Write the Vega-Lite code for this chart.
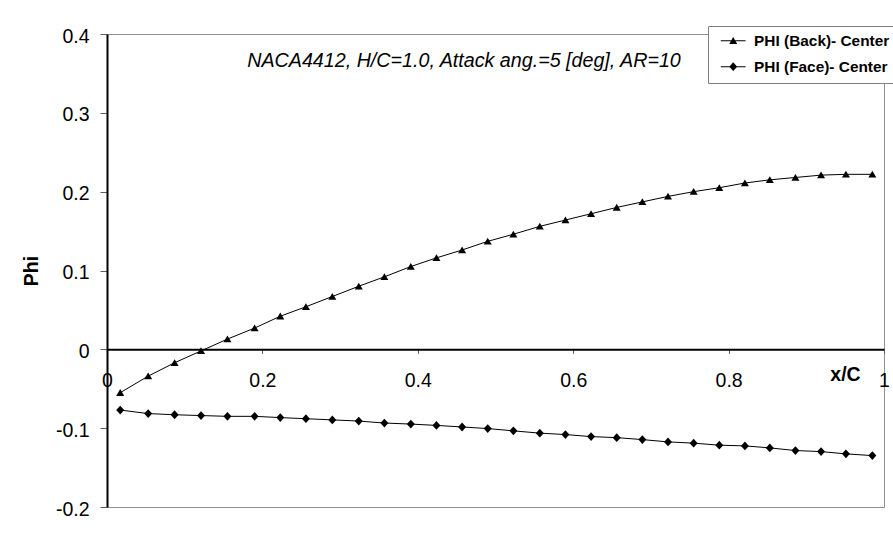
{
  "$schema": "https://vega.github.io/schema/vega-lite/v6.json",
  "width": 777,
  "height": 473,
  "autosize": {"type": "none"},
  "padding": {"left": 107, "top": 34, "right": 9, "bottom": 37},
  "background": "white",
  "config": {"view": {"stroke": "#909090", "strokeWidth": 1}, "font": "Liberation Sans"},
  "title": {
    "text": "NACA4412, H/C=1.0, Attack ang.=5 [deg], AR=10",
    "frame": "group",
    "anchor": "middle",
    "offset": -45,
    "dx": -31.5,
    "font": "Liberation Sans",
    "fontSize": 19.7,
    "fontStyle": "italic",
    "fontWeight": "normal",
    "color": "black"
  },
  "data": {
    "values": [
      {"series": "PHI (Back)- Center", "x": 0.017, "phi": -0.055},
      {"series": "PHI (Back)- Center", "x": 0.053, "phi": -0.034},
      {"series": "PHI (Back)- Center", "x": 0.087, "phi": -0.017},
      {"series": "PHI (Back)- Center", "x": 0.121, "phi": -0.002},
      {"series": "PHI (Back)- Center", "x": 0.155, "phi": 0.013},
      {"series": "PHI (Back)- Center", "x": 0.190, "phi": 0.027},
      {"series": "PHI (Back)- Center", "x": 0.223, "phi": 0.042},
      {"series": "PHI (Back)- Center", "x": 0.256, "phi": 0.054},
      {"series": "PHI (Back)- Center", "x": 0.290, "phi": 0.067},
      {"series": "PHI (Back)- Center", "x": 0.324, "phi": 0.080},
      {"series": "PHI (Back)- Center", "x": 0.357, "phi": 0.092},
      {"series": "PHI (Back)- Center", "x": 0.391, "phi": 0.105},
      {"series": "PHI (Back)- Center", "x": 0.424, "phi": 0.116},
      {"series": "PHI (Back)- Center", "x": 0.457, "phi": 0.126},
      {"series": "PHI (Back)- Center", "x": 0.490, "phi": 0.137},
      {"series": "PHI (Back)- Center", "x": 0.523, "phi": 0.146},
      {"series": "PHI (Back)- Center", "x": 0.557, "phi": 0.156},
      {"series": "PHI (Back)- Center", "x": 0.590, "phi": 0.164},
      {"series": "PHI (Back)- Center", "x": 0.623, "phi": 0.172},
      {"series": "PHI (Back)- Center", "x": 0.656, "phi": 0.180},
      {"series": "PHI (Back)- Center", "x": 0.689, "phi": 0.187},
      {"series": "PHI (Back)- Center", "x": 0.722, "phi": 0.194},
      {"series": "PHI (Back)- Center", "x": 0.755, "phi": 0.200},
      {"series": "PHI (Back)- Center", "x": 0.788, "phi": 0.205},
      {"series": "PHI (Back)- Center", "x": 0.821, "phi": 0.211},
      {"series": "PHI (Back)- Center", "x": 0.853, "phi": 0.215},
      {"series": "PHI (Back)- Center", "x": 0.886, "phi": 0.218},
      {"series": "PHI (Back)- Center", "x": 0.919, "phi": 0.221},
      {"series": "PHI (Back)- Center", "x": 0.951, "phi": 0.222},
      {"series": "PHI (Back)- Center", "x": 0.985, "phi": 0.222},
      {"series": "PHI (Face)- Center", "x": 0.017, "phi": -0.077},
      {"series": "PHI (Face)- Center", "x": 0.053, "phi": -0.0815},
      {"series": "PHI (Face)- Center", "x": 0.087, "phi": -0.083},
      {"series": "PHI (Face)- Center", "x": 0.121, "phi": -0.084},
      {"series": "PHI (Face)- Center", "x": 0.155, "phi": -0.085},
      {"series": "PHI (Face)- Center", "x": 0.190, "phi": -0.085},
      {"series": "PHI (Face)- Center", "x": 0.223, "phi": -0.0866},
      {"series": "PHI (Face)- Center", "x": 0.256, "phi": -0.088},
      {"series": "PHI (Face)- Center", "x": 0.290, "phi": -0.0895},
      {"series": "PHI (Face)- Center", "x": 0.324, "phi": -0.091},
      {"series": "PHI (Face)- Center", "x": 0.357, "phi": -0.0935},
      {"series": "PHI (Face)- Center", "x": 0.391, "phi": -0.0948},
      {"series": "PHI (Face)- Center", "x": 0.424, "phi": -0.0965},
      {"series": "PHI (Face)- Center", "x": 0.457, "phi": -0.0985},
      {"series": "PHI (Face)- Center", "x": 0.490, "phi": -0.1005},
      {"series": "PHI (Face)- Center", "x": 0.523, "phi": -0.1034},
      {"series": "PHI (Face)- Center", "x": 0.557, "phi": -0.1063},
      {"series": "PHI (Face)- Center", "x": 0.590, "phi": -0.1081},
      {"series": "PHI (Face)- Center", "x": 0.623, "phi": -0.1107},
      {"series": "PHI (Face)- Center", "x": 0.656, "phi": -0.112},
      {"series": "PHI (Face)- Center", "x": 0.689, "phi": -0.1145},
      {"series": "PHI (Face)- Center", "x": 0.722, "phi": -0.1174},
      {"series": "PHI (Face)- Center", "x": 0.755, "phi": -0.119},
      {"series": "PHI (Face)- Center", "x": 0.788, "phi": -0.1216},
      {"series": "PHI (Face)- Center", "x": 0.821, "phi": -0.1225},
      {"series": "PHI (Face)- Center", "x": 0.853, "phi": -0.125},
      {"series": "PHI (Face)- Center", "x": 0.886, "phi": -0.1284},
      {"series": "PHI (Face)- Center", "x": 0.919, "phi": -0.1297},
      {"series": "PHI (Face)- Center", "x": 0.951, "phi": -0.1326},
      {"series": "PHI (Face)- Center", "x": 0.985, "phi": -0.1348}
    ]
  },
  "encoding": {
    "x": {
      "field": "x",
      "type": "quantitative",
      "scale": {"domain": [0, 1], "nice": false, "zero": false},
      "axis": {
        "values": [0, 0.2, 0.4, 0.6, 0.8, 1],
        "format": "~g",
        "offset": -157.67,
        "title": "x/C",
        "titleX": 738,
        "titleY": 25,
        "titleAlign": "center",
        "titleBaseline": "middle",
        "titleFont": "Liberation Sans",
        "titleFontSize": 19.5,
        "titleFontWeight": "bold",
        "titleColor": "black",
        "labelFont": "Liberation Sans",
        "labelFontSize": 19.5,
        "labelColor": "black",
        "labelPadding": 18,
        "labelFlush": false,
        "labelOverlap": false,
        "tickSize": 4,
        "tickColor": "#606060",
        "tickWidth": 1,
        "domainColor": "black",
        "domainWidth": 2,
        "grid": false,
        "zindex": 1
      }
    },
    "y": {
      "field": "phi",
      "type": "quantitative",
      "scale": {"domain": [-0.2, 0.4], "nice": false, "zero": false},
      "axis": {
        "values": [-0.2, -0.1, 0, 0.1, 0.2, 0.3, 0.4],
        "labelExpr": "datum.value < 0 ? '-' + format(-datum.value, '.1~f') : format(datum.value, '.1~f')",
        "title": "Phi",
        "titleX": -76,
        "titleY": 236.5,
        "titleAngle": 270,
        "titleAlign": "center",
        "titleBaseline": "middle",
        "titleFont": "Liberation Sans",
        "titleFontSize": 19.5,
        "titleFontWeight": "bold",
        "titleColor": "black",
        "labelFont": "Liberation Sans",
        "labelFontSize": 19.5,
        "labelColor": "black",
        "labelPadding": 11,
        "labelOffset": 2,
        "labelFlush": false,
        "labelOverlap": false,
        "tickSize": 7,
        "tickColor": "#606060",
        "tickWidth": 1,
        "domainColor": "black",
        "domainWidth": 2,
        "grid": false,
        "zindex": 1
      }
    }
  },
  "layer": [
    {
      "mark": {"type": "line", "color": "black", "strokeWidth": 1},
      "encoding": {"detail": {"field": "series"}}
    },
    {
      "mark": {"type": "point", "filled": true, "color": "black", "opacity": 1, "size": 64},
      "encoding": {
        "shape": {
          "field": "series",
          "type": "nominal",
          "scale": {
            "domain": ["PHI (Back)- Center", "PHI (Face)- Center"],
            "range": ["M0,-0.9L1,0.8L-1,0.8Z", "M0,-1.1L1,0L0,1.1L-1,0Z"]
          },
          "legend": null
        }
      }
    },
    {
      "mark": {"type": "point", "filled": true, "color": "black", "opacity": 0, "size": 64},
      "encoding": {
        "shape": {
          "field": "series",
          "type": "nominal",
          "scale": {
            "domain": ["PHI (Back)- Center", "PHI (Face)- Center"],
            "range": ["M-3.1,-0.13H3.1V0.13H-3.1ZM0,-0.9L1,0.8L-1,0.8Z", "M-3.1,-0.13H3.1V0.13H-3.1ZM0,-1.1L1,0L0,1.1L-1,0Z"]
          },
          "legend": {
            "title": null,
            "orient": "none",
            "legendX": 601,
            "legendY": -8,
            "padding": 7,
            "symbolSize": 64,
            "symbolOffset": 10.5,
            "labelOffset": 13.2,
            "rowPadding": 9,
            "labelFont": "Liberation Sans",
            "labelFontSize": 15.4,
            "labelFontWeight": "bold",
            "labelColor": "black",
            "labelLimit": 300,
            "fillColor": "white",
            "strokeColor": "#808080",
            "symbolFillColor": "black",
            "symbolOpacity": 1,
            "symbolStrokeWidth": 0
          }
        }
      }
    }
  ],
  "resolve": {"scale": {"shape": "independent"}, "legend": {"shape": "independent"}}
}
